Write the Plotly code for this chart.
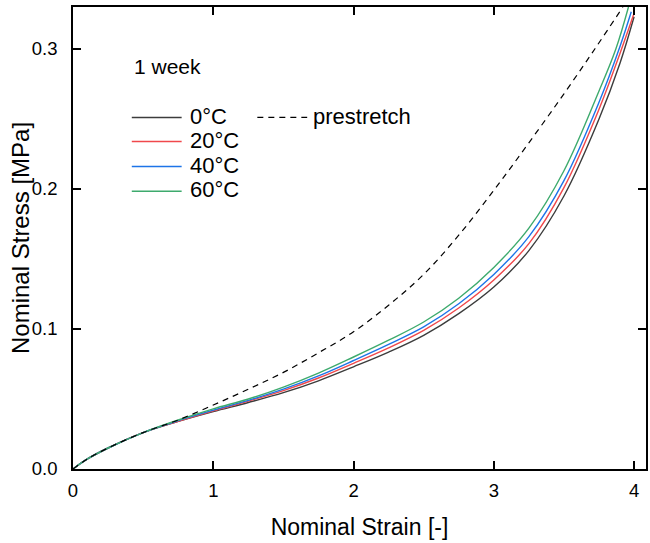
import plotly.graph_objects as go

# Data
strain_0C = [0, 0.1, 0.25, 0.5, 0.75, 1.0, 1.25, 1.5, 1.75, 2.0, 2.25, 2.5, 2.75, 3.0, 3.25, 3.5, 3.75, 3.9, 4.0]
stress_0C = [0, 0.007, 0.015, 0.026, 0.034, 0.041, 0.0475, 0.0545, 0.063, 0.073, 0.0835, 0.0955, 0.111, 0.130, 0.156, 0.195, 0.250, 0.290, 0.323]

strain_20C = [0, 0.1, 0.25, 0.5, 0.75, 1.0, 1.25, 1.5, 1.75, 2.0, 2.25, 2.5, 2.75, 3.0, 3.25, 3.5, 3.75, 3.9, 4.0]
stress_20C = [0, 0.007, 0.015, 0.026, 0.034, 0.0415, 0.0485, 0.056, 0.065, 0.0755, 0.0865, 0.099, 0.115, 0.135, 0.161, 0.201, 0.257, 0.297, 0.3255]

strain_40C = [0, 0.1, 0.25, 0.5, 0.75, 1.0, 1.25, 1.5, 1.75, 2.0, 2.25, 2.5, 2.75, 3.0, 3.25, 3.5, 3.75, 3.9, 3.98]
stress_40C = [0, 0.007, 0.015, 0.026, 0.0345, 0.042, 0.049, 0.057, 0.0665, 0.0775, 0.089, 0.1015, 0.118, 0.139, 0.166, 0.206, 0.262, 0.302, 0.3266]

strain_60C = [0, 0.1, 0.25, 0.5, 0.75, 1.0, 1.25, 1.5, 1.75, 2.0, 2.25, 2.5, 2.75, 3.0, 3.25, 3.5, 3.75, 3.87, 3.96]
stress_60C = [0, 0.007, 0.015, 0.026, 0.035, 0.043, 0.050, 0.0585, 0.0685, 0.080, 0.092, 0.105, 0.122, 0.144, 0.172, 0.213, 0.270, 0.300, 0.330]

strain_pre = [0, 0.1, 0.25, 0.5, 0.75, 1.0, 1.25, 1.5, 1.75, 2.0, 2.25, 2.5, 2.75, 3.0, 3.25, 3.5, 3.72, 3.92]
stress_pre = [0, 0.007, 0.015, 0.026, 0.035, 0.0457, 0.057, 0.069, 0.083, 0.098, 0.117, 0.139, 0.167, 0.199, 0.233, 0.268, 0.300, 0.330]

series_names = ["0°C", "20°C", "40°C", "60°C"]
series_colors = ["#3c3c3c", "#f0484b", "#1d74e8", "#3daa6d"]
series_x = [strain_0C, strain_20C, strain_40C, strain_60C]
series_y = [stress_0C, stress_20C, stress_40C, stress_60C]
pre_name = "prestretch"
legend_title = "1 week"
x_title = "Nominal Strain [-]"
y_title = "Nominal Stress [MPa]"

x_ticks = [0, 1, 2, 3, 4]
y_ticks = [0.0, 0.1, 0.2, 0.3]

FONT = "Liberation Sans, Arial, sans-serif"
PRE_DASH = "6px,5px"

fig = go.Figure()
for name, col, xs, ys in zip(series_names, series_colors, series_x, series_y):
    fig.add_trace(go.Scatter(x=xs, y=ys, mode="lines", name=name, showlegend=False,
                             line=dict(color=col, width=1.4, shape="spline", smoothing=1.0)))
fig.add_trace(go.Scatter(x=strain_pre, y=stress_pre, mode="lines", name=pre_name, showlegend=False,
                         line=dict(color="black", width=1.2, dash=PRE_DASH, shape="spline", smoothing=1.0)))

# Hand-built legend (layout positions in paper fractions)
shapes = []
annotations = []
leg_x0, leg_x1, leg_tx = 0.1026, 0.1896, 0.200
leg_rows = [0.761, 0.709, 0.655, 0.601]
for name, col, yy in zip(series_names, series_colors, leg_rows):
    shapes.append(dict(type="line", xref="paper", yref="paper", x0=leg_x0, x1=leg_x1, y0=yy, y1=yy,
                       line=dict(color=col, width=1.5)))
    annotations.append(dict(text=name, xref="paper", yref="paper", x=leg_tx, y=yy + 0.003,
                            xanchor="left", yanchor="middle", showarrow=False,
                            font=dict(family=FONT, size=22, color="black")))
shapes.append(dict(type="line", xref="paper", yref="paper", x0=0.3217, x1=0.4087, y0=leg_rows[0], y1=leg_rows[0],
                   line=dict(color="black", width=1.2, dash=PRE_DASH)))
annotations.append(dict(text=pre_name, xref="paper", yref="paper", x=0.416, y=leg_rows[0] + 0.003,
                        xanchor="left", yanchor="middle", showarrow=False,
                        font=dict(family=FONT, size=22, color="black")))
annotations.append(dict(text=legend_title, xref="paper", yref="paper", x=0.103, y=0.872,
                        xanchor="left", yanchor="middle", showarrow=False,
                        font=dict(family=FONT, size=21, color="black")))
# y-axis title placed as rotated text
annotations.append(dict(text=y_title, xref="paper", yref="paper", x=-0.0925, y=0.5,
                        xanchor="center", yanchor="middle", textangle=-90, showarrow=False,
                        font=dict(family=FONT, size=24, color="black")))

axis_common = dict(showline=True, linecolor="black", linewidth=1.5, mirror="ticks",
                   ticks="inside", ticklen=8, tickwidth=1.5, tickcolor="black",
                   showgrid=False, zeroline=False,
                   tickfont=dict(family=FONT, size=18.5, color="black"))

fig.update_layout(
    width=650, height=543,
    margin=dict(l=73, r=2, t=7, b=74),
    paper_bgcolor="white", plot_bgcolor="white",
    font=dict(family=FONT, color="black"),
    xaxis=dict(range=[0, 4.085], tickvals=x_ticks, ticktext=[str(v) for v in x_ticks],
               ticklabelstandoff=4,
               title=dict(text=x_title, font=dict(family=FONT, size=23), standoff=19),
               **axis_common),
    yaxis=dict(range=[0, 0.33], tickvals=y_ticks, ticktext=[f"{v:.1f}" for v in y_ticks],
               ticklabelstandoff=10,
               **axis_common),
    shapes=shapes,
    annotations=annotations,
    showlegend=False,
)

fig.write_html("out.html")
